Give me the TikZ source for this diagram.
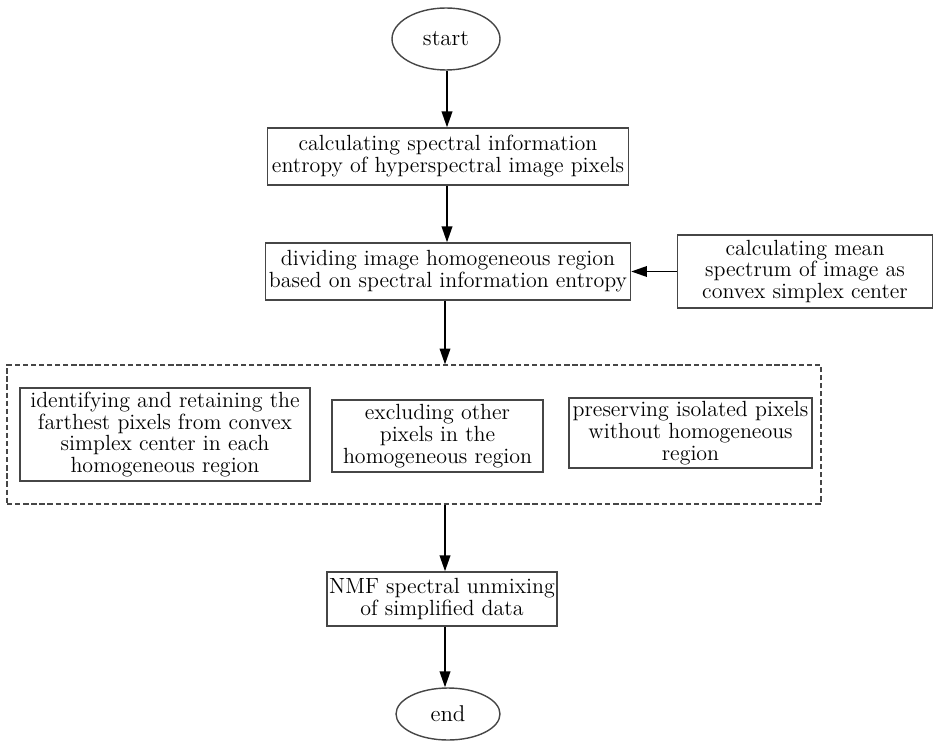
\documentclass[tikz,border=0pt]{standalone}
\usepackage{tikz}
\usetikzlibrary{arrows.meta,positioning,shapes.geometric}
\definecolor{boxcolor}{RGB}{70,70,70}
\tikzset{
  procbox/.style={draw=boxcolor, line width=0.8pt, align=center, inner sep=1pt,
    font=\fontsize{12.5}{12.5}\selectfont},
  termnode/.style={draw=boxcolor, line width=0.8pt, ellipse, inner sep=0pt,
    font=\fontsize{13}{13}\selectfont},
  dashbox/.style={draw=boxcolor, line width=0.7pt, dash pattern=on 3pt off 1.6pt},
  flow/.style={-{Triangle[length=9pt,width=6pt]}, line width=1pt}
}
\begin{document}
\begin{tikzpicture}[x=0.02cm, y=-0.02cm]
    \useasboundingbox (0,0) rectangle (935,746);
    % main line
    \node[termnode, minimum width=2.16cm, minimum height=1.24cm] (start) at (446,39) {start};
    \node[procbox, minimum width=7.22cm, minimum height=1.14cm] (entropy) at (448,156.5)
      {calculating spectral information\\entropy of hyperspectral image pixels};
    \node[procbox, minimum width=7.3cm, minimum height=1.14cm] (divide) at (448,271.5)
      {dividing image homogeneous region\\based on spectral information entropy};
    \node[procbox, minimum width=5.1cm, minimum height=1.46cm] (mean) at (805,271.5)
      {calculating mean\\spectrum of image as\\convex simplex center};
    % dashed group
    \node[dashbox, minimum width=16.28cm, minimum height=2.78cm] (group) at (414,434.5) {};
    \node[procbox, minimum width=5.8cm, minimum height=1.86cm] (retain) at (165,434.5)
      {identifying and retaining the\\farthest pixels from convex\\simplex center in each\\homogeneous region};
    \node[procbox, minimum width=4.22cm, minimum height=1.44cm] (exclude) at (437.5,436)
      {excluding other\\pixels in the\\homogeneous region};
    \node[procbox, minimum width=4.86cm, minimum height=1.4cm] (isolated) at (690.5,433)
      {preserving isolated pixels\\without homogeneous\\region};
    % unmixing and end
    \node[procbox, minimum width=4.6cm, minimum height=1.08cm] (nmf) at (442,599)
      {NMF spectral unmixing\\of simplified data};
    \node[termnode, minimum width=2.08cm, minimum height=1.04cm] (end) at (448,714) {end};
    % connectors
    \draw[flow] (start.south -| 447,0) -- (entropy.north -| 447,0);
    \draw[flow] (entropy.south -| 447,0) -- (divide.north -| 447,0);
    \draw[flow] (mean.west) -- (divide.east);
    \draw[flow] (divide.south -| 445,0) -- (group.north -| 445,0);
    \draw[flow] (group.south -| 445,0) -- (nmf.north -| 445,0);
    \draw[flow] (nmf.south -| 445,0) -- (end.north -| 445,0);
  \end{tikzpicture}
\end{document}
